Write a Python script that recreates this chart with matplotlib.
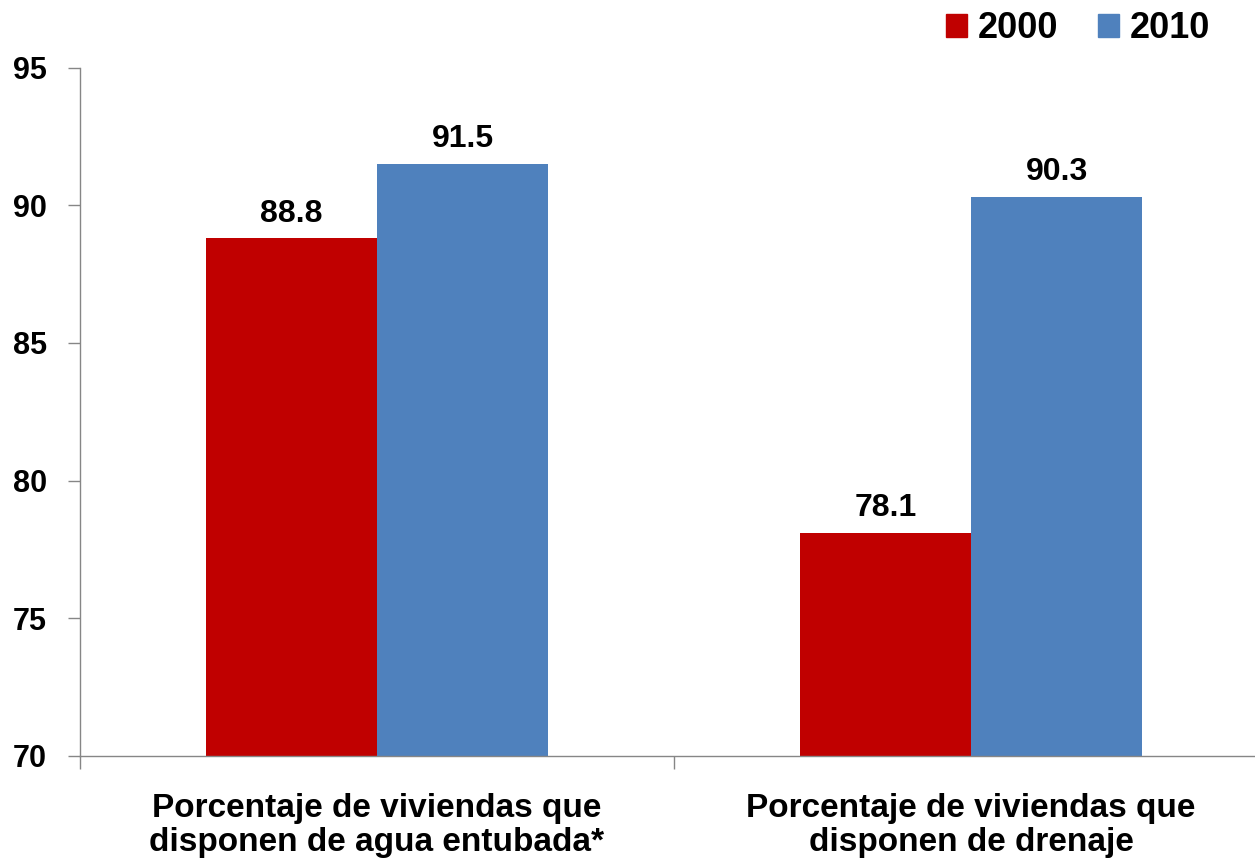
import numpy as np
import matplotlib
matplotlib.use("Agg")
import matplotlib.pyplot as plt
from matplotlib.patches import Patch

# datos
categorias = ["Porcentaje de viviendas que\ndisponen de agua entubada*",
              "Porcentaje de viviendas que\ndisponen de drenaje"]
series = ["2000", "2010"]
valores_2000 = [88.8, 78.1]
valores_2010 = [91.5, 90.3]
yticks = [70, 75, 80, 85, 90, 95]

colores = ["#C00000", "#4F81BD"]
gris = "#868686"

plt.rcParams['font.family'] = ['Liberation Sans', 'DejaVu Sans']
plt.rcParams['font.weight'] = 'bold'

fig = plt.figure(figsize=(12.55, 8.63), dpi=100)
ax = fig.add_axes([80 / 1255, 107.3 / 863, 1188 / 1255, 688 / 863])

x = np.arange(len(categorias))
w = 0.288
b1 = ax.bar(x - w / 2, valores_2000, w, color=colores[0], label=series[0])
b2 = ax.bar(x + w / 2, valores_2010, w, color=colores[1], label=series[1])

for barras in (b1, b2):
    for r in barras:
        ax.annotate(f"{r.get_height():.1f}", (r.get_x() + r.get_width() / 2, r.get_height()),
                    xytext=(0, 7), textcoords="offset points", ha="center", va="bottom",
                    fontsize=23, fontweight="bold")

ax.set_ylim(70, 95)
ax.set_xlim(-0.5, 1.5)
ax.set_yticks(yticks)
ax.set_yticklabels([str(t) for t in yticks], fontsize=22, fontweight="bold")

# etiquetas de categoria centradas, marcas entre categorias
ax.set_xticks(x)
ax.set_xticklabels(categorias, fontsize=24, fontweight="bold", linespacing=1.12)
ax.tick_params(axis="x", which="major", length=0, pad=27)
ax.set_xticks([-0.5, 0.5, 1.5], minor=True)
ax.tick_params(axis="x", which="minor", length=9, color=gris, width=1)
ax.tick_params(axis="y", length=9, color=gris, width=1, pad=15)

for s in ["top", "right"]:
    ax.spines[s].set_visible(False)
for s in ["left", "bottom"]:
    ax.spines[s].set_color(gris)
    ax.spines[s].set_linewidth(1)

handles = [Patch(color=colores[0], label=series[0]), Patch(color=colores[1], label=series[1])]
fig.legend(handles=handles, loc="upper right", bbox_to_anchor=(0.99, 1.025), ncol=2,
           frameon=False, handlelength=0.6, handleheight=0.6,
           handletextpad=0.28, columnspacing=1.1, prop={'weight': 'bold', 'size': 26})

fig.savefig("out.png", dpi=100)
